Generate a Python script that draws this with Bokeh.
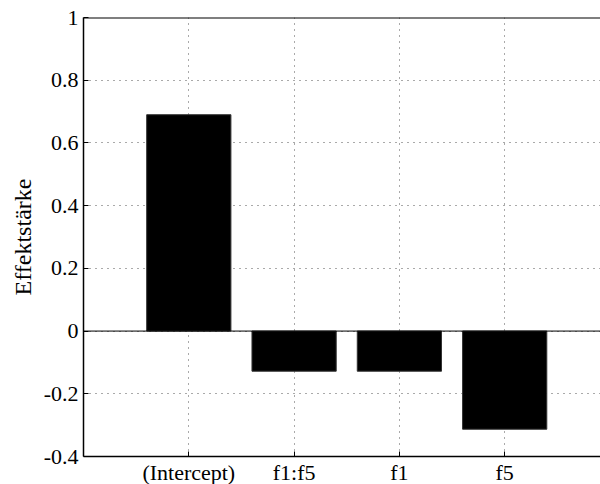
from bokeh.plotting import figure
from bokeh.models import Range1d, FixedTicker, Span
from bokeh.embed import file_html
from bokeh.resources import INLINE

categories = ["(Intercept)", "f1:f5", "f1", "f5"]
effects = [0.69, -0.128, -0.128, -0.313]
y_ticks = [-0.4, -0.2, 0, 0.2, 0.4, 0.6, 0.8, 1]
y_tick_labels = ["-0.4", "-0.2", "0", "0.2", "0.4", "0.6", "0.8", "1"]

xs = list(range(1, len(categories) + 1))

FONT = "Liberation Serif"

p = figure(frame_width=517, frame_height=439, output_backend="svg", toolbar_location=None,
           x_range=Range1d(0, 4.91), y_range=Range1d(-0.4, 1.0),
           min_border_left=83, min_border_right=0, min_border_top=17, min_border_bottom=28)
p.outline_line_color = None
p.background_fill_color = "white"

p.vbar(x=xs, top=effects, bottom=0, width=0.8, fill_color="black", line_color="#333333", line_width=1)
p.add_layout(Span(location=0, dimension="width", line_color="black", line_width=1))
p.add_layout(Span(location=1.0, dimension="width", line_color="black", line_width=2))

# axes
xa = p.xaxis[0]
xa.ticker = FixedTicker(ticks=xs)
xa.major_label_overrides = {x: c for x, c in zip(xs, categories)}
ya = p.yaxis[0]
ya.ticker = FixedTicker(ticks=y_ticks)
ya.major_label_overrides = {t: l for t, l in zip(y_ticks, y_tick_labels)}
ya.axis_label = "Effektstärke"

for ax in (xa, ya):
    ax.major_tick_in = 5
    ax.major_tick_out = 0
    ax.minor_tick_line_color = None
    ax.axis_line_color = "black"
    ax.axis_line_width = 1.5
    ax.major_tick_line_color = "black"
    ax.major_label_text_font = FONT
    ax.major_label_text_font_size = "22px"
    ax.major_label_text_color = "black"
    ax.axis_label_text_font = FONT
    ax.axis_label_text_font_size = "24px"
    ax.axis_label_text_font_style = "normal"
    ax.axis_label_text_color = "black"
xa.major_label_standoff = 3
ya.major_label_standoff = 5
ya.axis_label_standoff = 5

for g in (p.xgrid[0], p.ygrid[0]):
    g.grid_line_color = "#555555"
    g.grid_line_dash = "1 5"
    g.grid_line_width = 1
p.xgrid[0].ticker = FixedTicker(ticks=xs)
p.ygrid[0].ticker = FixedTicker(ticks=y_ticks)

open("out.html", "w").write(file_html(p, INLINE))
